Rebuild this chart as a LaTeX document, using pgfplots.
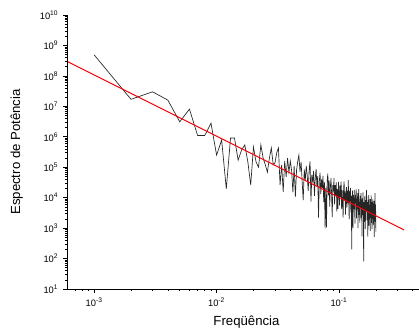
\documentclass[border=0pt]{standalone}
\usepackage{pgfplots}
\pgfplotsset{compat=1.18}
\usepackage{fontspec}
\setmainfont{Liberation Sans}
\begin{document}
\begin{tikzpicture}
\begin{axis}[
  at={(0pt,0pt)}, anchor=south west,
  scale only axis, width=264pt, height=205.5pt,
  xmode=log, ymode=log,
  xmin=6e-4, xmax=0.45, ymin=10, ymax=1e10,
  axis x line=bottom, axis y line=left,
  x axis line style={-, line width=0.6pt},
  y axis line style={-, line width=0.6pt},
  tick align=outside,
  major tick length=3pt, minor tick length=1.6pt,
  xtick={1e-3,1e-2,1e-1},
  xticklabels={10\textsuperscript{-3},10\textsuperscript{-2},10\textsuperscript{-1}},
  minor xtick={7e-4,8e-4,9e-4,2e-3,3e-3,4e-3,5e-3,6e-3,7e-3,8e-3,9e-3,2e-2,3e-2,4e-2,5e-2,6e-2,7e-2,8e-2,9e-2,0.2,0.3,0.4},
  ytick={1e1,1e2,1e3,1e4,1e5,1e6,1e7,1e8,1e9,1e10},
  yticklabels={10\textsuperscript{1},10\textsuperscript{2},10\textsuperscript{3},10\textsuperscript{4},10\textsuperscript{5},10\textsuperscript{6},10\textsuperscript{7},10\textsuperscript{8},10\textsuperscript{9},10\textsuperscript{10}},
  minor ytick={20,30,40,50,60,70,80,90,200,300,400,500,600,700,800,900,2e3,3e3,4e3,5e3,6e3,7e3,8e3,9e3,2e4,3e4,4e4,5e4,6e4,7e4,8e4,9e4,2e5,3e5,4e5,5e5,6e5,7e5,8e5,9e5,2e6,3e6,4e6,5e6,6e6,7e6,8e6,9e6,2e7,3e7,4e7,5e7,6e7,7e7,8e7,9e7,2e8,3e8,4e8,5e8,6e8,7e8,8e8,9e8,2e9,3e9,4e9,5e9,6e9,7e9,8e9,9e9},
  major tick style={line width=0.5pt, black},
  minor tick style={line width=0.4pt, black},
  tick label style={font=\fontsize{7pt}{8pt}\selectfont},
  label style={font=\fontsize{9.9pt}{11pt}\selectfont},
  xlabel={Freqüência},
  ylabel={Espectro de Potência},
  xlabel style={at={(axis description cs:0.51,0)}, anchor=center, yshift=-24.5pt},
  ylabel style={at={(axis description cs:-0.143,0.5)}, anchor=center},
]
\addplot[black!85, line width=0.5pt] coordinates {
(0.001,4.9e8)(0.002,1.7e7)(0.003,3.0e7)(0.004,1.6e7)(0.005,3.1e6)(0.006,8.1e6)(0.007,1.1e6)(0.008,1.1e6)(0.009,2.8e6)(0.010,2.5e5)
(0.011,7.8e5)(0.012,1.95e4)(0.013,9.1e5)(0.014,9.1e5)(0.015,1.7e5)(0.016,3.7e5)(0.017,5.4e5)(0.018,1.5e5)(0.019,2.6e4)(0.020,4.6e5)
(0.021,1.5e5)(0.022,1.0e5)(0.023,5.4e5)(0.024,2.0e5)(0.025,1.2e5)(0.026,6.9e4)(0.027,2.0e5)(0.028,4.3e5)(0.029,1.2e5)(0.030,1.4e5)
(0.031,3.0e5)(0.032,4.3e5)(0.033,2.6e4)(0.034,1.2e5)(0.035,1.55e4)(0.036,1.6e5)(0.037,4.8e4)(0.038,2.0e5)(0.039,6.8e4)(0.040,1.6e5)
(0.041,7.8e4)(0.042,1.5e4)(0.043,1.1e5)(0.044,1.07e4)(0.045,8.1e4)(0.046,1.55e5)(0.047,2.5e5)(0.048,7.1e4)(0.049,1.5e5)(0.050,3.3e4)
(0.051,8.3e3)(0.052,8.5e4)(0.053,3.7e4)(0.054,1.1e5)(0.055,5.4e4)(0.056,1.66e4)(0.057,7.9e4)(0.058,1.55e5)(0.059,7.4e3)(0.060,5.7e4)
(0.061,3.1e4)(0.062,7.6e4)(0.063,1.15e4)(0.064,4.5e4)(0.065,8.7e4)(0.066,2.3e4)(0.067,5.1e4)(0.068,2.2e3)(0.069,3.4e4)(0.070,6.6e4)
(0.071,1.3e4)(0.072,4.0e4)(0.073,2.1e4)(0.074,5.2e4)(0.075,7.2e3)(0.076,3.2e4)(0.077,9.8e2)(0.078,2.1e4)(0.079,1.05e3)(0.080,3.6e4)
(0.081,6.2e4)(0.082,1.2e4)(0.083,3.7e4)(0.084,5.1e3)(0.085,2.2e4)(0.086,4.4e4)(0.087,1.2e4)(0.088,2.3e3)(0.089,2.6e4)(0.090,1.6e4)
(0.091,4.4e4)(0.092,6.0e3)(0.093,2.6e4)(0.094,1.15e4)(0.095,3.2e4)(0.096,3.5e3)(0.097,1.9e4)(0.098,4.3e3)(0.099,3.3e4)(0.100,1.45e4)
(0.101,5.6e3)(0.102,2.5e4)(0.103,1.07e4)(0.104,3.4e4)(0.105,4.2e3)(0.106,1.8e4)(0.107,7.1e3)(0.108,2.2e3)(0.109,1.9e4)(0.110,3.4e4)
(0.111,8.3e3)(0.112,1.6e4)(0.113,2.8e3)(0.114,1.25e4)(0.115,2.2e4)(0.116,4.8e3)(0.117,1.66e4)(0.118,6.6e3)(0.119,3.8e4)(0.120,8.9e3)
(0.121,1.95e3)(0.122,1.7e4)(0.123,7.6e3)(0.124,2.1e4)(0.125,3.3e3)(0.126,1.15e4)(0.127,2.0e2)(0.128,1.0e4)(0.129,1.7e4)(0.130,1.0e3)
(0.131,1.2e4)(0.132,4.2e3)(0.133,1.8e4)(0.134,5.7e3)(0.135,1.4e3)(0.136,1.23e4)(0.137,6.9e3)(0.138,1.9e4)(0.139,2.1e3)(0.140,9.3e3)
(0.141,4.6e3)(0.142,1.4e4)(0.143,1.0e3)(0.144,9.8e3)(0.145,1.9e4)(0.146,2.7e3)(0.147,7.4e3)(0.148,1.5e3)(0.149,1.15e4)(0.150,4.6e3)
(0.151,1.4e4)(0.152,2.2e3)(0.153,8.7e3)(0.154,5.4e2)(0.155,9.5e3)(0.156,4.7e3)(0.157,1.5e4)(0.158,2.6e3)(0.159,81)(0.160,7.1e3)
(0.161,1.6e3)(0.162,1.1e4)(0.163,4.8e3)(0.164,9.5e2)(0.165,8.3e3)(0.166,3.7e3)(0.167,1.15e4)(0.168,1.8e4)(0.169,1.8e3)(0.170,7.1e3)
(0.171,2.8e3)(0.172,5.2e2)(0.173,8.5e3)(0.174,4.3e3)(0.175,1.2e4)(0.176,1.2e3)(0.177,5.8e3)(0.178,2.3e3)(0.179,8.9e3)(0.180,7.9e2)
(0.181,6.2e3)(0.182,3.5e3)(0.183,1.2e4)(0.184,1.5e3)(0.185,4.7e3)(0.186,9.3e2)(0.187,7.2e3)(0.188,2.9e3)(0.189,9.1e3)(0.190,1.26e3)
(0.191,5.6e3)(0.192,2.2e3)(0.193,7.8e3)(0.194,5.2e2)(0.195,4.8e3)(0.196,3.0e3)(0.197,1.4e4)(0.198,1.6e3)(0.199,5.8e3)(0.200,7.6e2)
};
\addplot[red, line width=0.75pt] coordinates {(6e-4,3.0e8)(0.34,8.7e2)};
\end{axis}
\fill[black] (-0.35pt,-0.35pt) rectangle (0.35pt,205.5pt);
\fill[black] (-0.35pt,-0.35pt) rectangle (264pt,0.35pt);
\pgfresetboundingbox
\path[use as bounding box] (-50.25pt,-32.25pt) rectangle (264pt,216.75pt);
\end{tikzpicture}
\end{document}
